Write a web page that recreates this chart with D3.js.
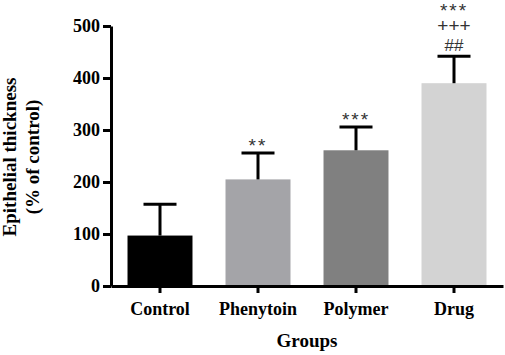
<!DOCTYPE html>
<html>
<head>
<meta charset="utf-8">
<script src="https://cdn.jsdelivr.net/npm/d3@7"></script>
<style>
  body { margin: 0; background: #fff; }
  text { font-family: "Liberation Serif", "Times New Roman", serif; font-weight: bold; }
  .mark { font-family: "Liberation Sans", Arial, sans-serif; font-weight: normal; fill: #333; }
</style>
</head>
<body>
<div id="chart"></div>
<script>
// data
var groups = ["Control", "Phenytoin", "Polymer", "Drug"];
var means = [97, 205, 261, 390];
var errors = [60, 51, 45, 52];
var colors = ["#000000", "#a4a4a8", "#808080", "#d3d3d3"];
// significance marks, bottom to top
var marks = [[], ["**"], ["***"], ["##", "+++", "***"]];
var yTicks = [0, 100, 200, 300, 400, 500];

var width = 505, height = 355;
var margin = { top: 26, right: 2, bottom: 69, left: 111 };
var w = width - margin.left - margin.right,
    h = height - margin.top - margin.bottom;

var svg = d3.select("#chart").append("svg")
    .attr("width", width)
    .attr("height", height)
    .append("g")
    .attr("transform", "translate(" + margin.left + "," + margin.top + ")");

var x = d3.scaleBand().domain(groups).range([0, w])
    .paddingInner(0.337).paddingOuter(0.1685);
var y = d3.scaleLinear().domain([0, 500]).range([h, 0]);

// bars
svg.selectAll("rect.bar")
    .data(groups)
    .enter().append("rect")
    .attr("class", "bar")
    .attr("x", function (d) { return x(d); })
    .attr("y", function (d, i) { return y(means[i]); })
    .attr("width", x.bandwidth())
    .attr("height", function (d, i) { return h - y(means[i]); })
    .attr("fill", function (d, i) { return colors[i]; });

// error bars (upper only)
var capW = 33;
groups.forEach(function (g, i) {
    var cx = x(g) + x.bandwidth() / 2;
    var top = y(means[i] + errors[i]);
    svg.append("line")
        .attr("x1", cx).attr("x2", cx)
        .attr("y1", y(means[i])).attr("y2", top)
        .attr("stroke", "#000").attr("stroke-width", 3);
    svg.append("line")
        .attr("x1", cx - capW / 2).attr("x2", cx + capW / 2)
        .attr("y1", top).attr("y2", top)
        .attr("stroke", "#000").attr("stroke-width", 3);

    marks[i].forEach(function (m, j) {
        var star = m.charAt(0) == "*";
        svg.append("text")
            .attr("class", "mark")
            .attr("x", cx)
            .attr("y", top - 5 - j * 19 + (star ? 4 : 0))
            .attr("text-anchor", "middle")
            .style("font-size", m == "##" ? "17px" : "19px")
            .style("letter-spacing", star ? "2px" : "0px")
            .text(m);
    });
});

// Y axis
var yAxis = svg.append("g")
    .call(d3.axisLeft(y).tickValues(yTicks).tickSize(8).tickPadding(3).tickSizeOuter(0));
yAxis.select(".domain").attr("stroke-width", 3);
yAxis.selectAll(".tick line").attr("stroke-width", 3);
yAxis.selectAll(".tick text").style("font-size", "18px").attr("fill", "#000");

// X axis
var xAxis = svg.append("g")
    .attr("transform", "translate(0," + h + ")")
    .call(d3.axisBottom(x).tickSize(7).tickPadding(9).tickSizeOuter(0));
xAxis.select(".domain").attr("stroke-width", 3);
xAxis.selectAll(".tick line").attr("stroke-width", 3);
xAxis.selectAll(".tick text").style("font-size", "18px").attr("fill", "#000");

// axis titles
svg.append("text")
    .attr("x", w / 2)
    .attr("y", h + 61)
    .attr("text-anchor", "middle")
    .style("font-size", "19px")
    .text("Groups");

var yt = svg.append("text")
    .attr("transform", "translate(-95," + (h / 2 + 1) + ") rotate(-90)")
    .attr("text-anchor", "middle")
    .style("font-size", "19px");
yt.append("tspan").attr("x", 0).attr("dy", 0).text("Epithelial thickness");
yt.append("tspan").attr("x", 0).attr("dy", 23).text("(% of control)");
</script>
</body>
</html>
